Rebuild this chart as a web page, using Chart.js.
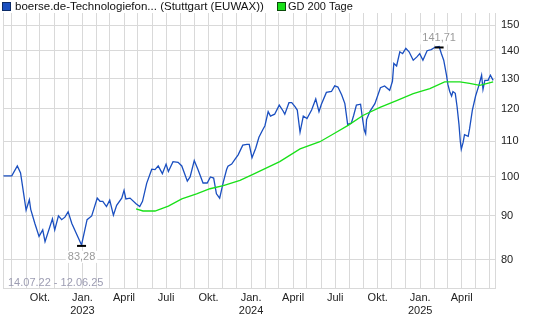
<!DOCTYPE html>
<html>
<head>
<meta charset="utf-8">
<script src="https://cdn.jsdelivr.net/npm/chart.js@4.4.1/dist/chart.umd.min.js"></script>
<style>
  html, body { margin: 0; padding: 0; background: #fff; }
  #wrap { position: relative; width: 537px; height: 323px; }
</style>
</head>
<body>
<div id="wrap"><canvas id="chart" width="537" height="323"></canvas></div>
<script>
// Zeitraum 14.07.22 - 12.06.25, x-Werte = Tage seit dem 14.07.2022
const START = Date.UTC(2022, 6, 14);
const TAGE_GESAMT = 1064;
const zeitraum = '14.07.22 - 12.06.25';

// Kurs (Stuttgart EUWAX)
const kursTage = [0, 18, 30, 37, 49, 56, 59, 68, 77, 85,
  90, 106, 111, 119, 126, 133, 140, 148, 169, 181,
  191, 203, 209, 215, 223, 230, 238, 245, 256, 261,
  265, 274, 287, 295, 301, 310, 321, 328, 335, 344,
  352, 357, 367, 378, 386, 398, 404, 413, 421, 432,
  441, 448, 455, 461, 468, 476, 483, 486, 494, 501,
  508, 518, 527, 532, 538, 546, 553, 561, 566, 573,
  578, 587, 597, 605, 609, 618, 624, 631, 636, 642,
  649, 657, 667, 676, 683, 688, 699, 710, 717, 724,
  732, 739, 745, 753, 758, 764, 773, 777, 781, 784,
  786, 793, 804, 816, 825, 836, 842, 845, 851, 858,
  864, 871, 878, 887, 895, 901, 908, 917, 926, 934,
  943, 948, 953, 959, 962, 966, 970, 973, 978, 982,
  986, 989, 991, 995, 998, 1006, 1009, 1015, 1022, 1029,
  1035, 1038, 1042, 1049, 1054, 1060];
const kursWerte = [100.2, 100.2, 102.9, 101.0, 91.4, 94.0, 91.6, 88.2, 85.2, 86.7,
  84.0, 89.3, 86.7, 90.0, 89.1, 89.7, 91.0, 88.2, 83.28, 89.1,
  90.0, 94.4, 93.6, 93.6, 92.3, 93.9, 90.2, 92.6, 94.4, 96.4,
  94.2, 94.4, 93.0, 92.3, 93.6, 98.2, 102.0, 101.9, 102.9, 100.8,
  103.4, 101.4, 104.1, 103.9, 102.9, 98.8, 99.9, 104.4, 101.9, 98.3,
  98.3, 99.9, 99.6, 95.5, 94.4, 98.6, 101.9, 102.8, 103.4, 104.7,
  106.0, 108.8, 109.0, 109.0, 105.2, 107.9, 111.1, 113.3, 114.6, 119.0,
  117.6, 118.2, 121.1, 119.3, 118.2, 121.9, 121.9, 120.6, 119.5, 112.6,
  117.6, 116.8, 119.5, 123.1, 119.0, 121.3, 125.3, 125.6, 127.5, 127.1,
  124.5, 121.6, 115.0, 115.4, 117.8, 121.1, 121.4, 117.0, 113.3, 112.2,
  116.5, 119.0, 121.6, 126.9, 127.5, 126.0, 129.1, 135.4, 134.5, 139.7,
  139.0, 141.0, 139.7, 136.6, 137.8, 139.0, 136.6, 140.1, 140.5, 141.4,
  141.71, 139.0, 136.6, 131.2, 128.0, 125.6, 124.1, 125.6, 125.0, 120.5,
  115.0, 109.8, 107.6, 109.6, 111.9, 111.4, 113.7, 119.5, 124.1, 127.6,
  131.2, 126.3, 129.4, 129.4, 131.2, 129.4];

// GD 200 Tage
const gdTage = [287, 302, 328, 357, 386, 418, 447, 476, 512, 540, 598, 642, 685,
  714, 746, 778, 815, 851, 887, 923, 955, 988, 1009, 1031, 1060];
const gdWerte = [91.7, 91.2, 91.2, 92.4, 94.2, 95.5, 96.8, 97.6, 99.0, 100.6, 104.1, 107.7, 109.8,
  112.1, 114.7, 117.8, 120.4, 122.6, 124.9, 126.6, 128.9, 128.9, 128.4, 127.7, 128.9];

const yTicks = [80, 90, 100, 110, 120, 130, 140, 150];
const monate = ['Jan.', 'Feb.', 'März', 'April', 'Mai', 'Juni', 'Juli', 'Aug.', 'Sep.', 'Okt.', 'Nov.', 'Dez.'];

const FONT = '"Liberation Sans", Arial, sans-serif';
const BLAU = '#1a4fc0';
const GRUEN = '#18e018';
const GITTER = '#d9d9d9';

// Monatsanfänge als Gitterlinien
const monatsTicks = [];
for (let j = 2022; j <= 2025; j++) {
  for (let m = 0; m < 12; m++) {
    const t = (Date.UTC(j, m, 1) - START) / 86400000;
    if (t > 0 && t <= TAGE_GESAMT) monatsTicks.push(t);
  }
}

function monatsLabel(t) {
  const d = new Date(START + Math.round(t) * 86400000);
  const m = d.getUTCMonth();
  if (m % 3 !== 0) return '';
  if (m === 0) return [monate[0], String(d.getUTCFullYear())];
  return monate[m];
}

const zahl = v => v.toFixed(2).replace('.', ',');

function markierung(ctx, px, py, text, unten) {
  ctx.strokeStyle = '#000';
  ctx.lineWidth = 2;
  ctx.beginPath();
  ctx.moveTo(px - 4.5, py + 1);
  ctx.lineTo(px + 4.5, py + 1);
  ctx.stroke();
  ctx.font = '11px ' + FONT;
  const w = ctx.measureText(text).width;
  const ty = unten ? py + 12 : py - 8;
  ctx.fillStyle = '#fff';
  ctx.fillRect(px - w / 2 - 2, ty - 6, w + 4, 12);
  ctx.fillStyle = '#9a9a9a';
  ctx.textAlign = 'center';
  ctx.textBaseline = 'middle';
  ctx.fillText(text, px, ty);
}

const beschriftung = {
  id: 'beschriftung',
  beforeDatasetsDraw(chart) {
    const { ctx, chartArea } = chart;
    ctx.save();
    ctx.strokeStyle = GITTER;
    ctx.lineWidth = 1;
    ctx.beginPath();
    ctx.moveTo(chartArea.left + 0.5, chartArea.top);
    ctx.lineTo(chartArea.left + 0.5, chartArea.bottom);
    ctx.stroke();
    ctx.font = '11px ' + FONT;
    ctx.fillStyle = '#9c9cb2';
    ctx.textBaseline = 'middle';
    ctx.fillText(zeitraum, 8, 283);
    ctx.restore();
  },
  afterDatasetsDraw(chart) {
    const { ctx, scales } = chart;
    const iMin = kursWerte.indexOf(Math.min(...kursWerte));
    const iMax = kursWerte.indexOf(Math.max(...kursWerte));
    ctx.save();
    markierung(ctx, scales.x.getPixelForValue(kursTage[iMin]), scales.y.getPixelForValue(kursWerte[iMin]), zahl(kursWerte[iMin]), true);
    markierung(ctx, scales.x.getPixelForValue(kursTage[iMax]), scales.y.getPixelForValue(kursWerte[iMax]), zahl(kursWerte[iMax]), false);
    ctx.restore();
  },
  afterDraw(chart) {
    const ctx = chart.ctx;
    ctx.save();
    ctx.textBaseline = 'middle';
    // Legende
    ctx.lineWidth = 1;
    ctx.fillStyle = BLAU;
    ctx.fillRect(2.5, 2.5, 8, 8);
    ctx.strokeStyle = '#0b2a66';
    ctx.strokeRect(2.5, 2.5, 8, 8);
    ctx.fillStyle = '#111';
    ctx.font = '11.5px ' + FONT;
    ctx.fillText('boerse.de-Technologiefon... (Stuttgart (EUWAX))', 15, 7);
    ctx.fillStyle = GRUEN;
    ctx.fillRect(277.5, 2.5, 8, 8);
    ctx.strokeStyle = '#0a4a0a';
    ctx.strokeRect(277.5, 2.5, 8, 8);
    ctx.fillStyle = '#111';
    ctx.font = '11px ' + FONT;
    ctx.fillText('GD 200 Tage', 288, 7);
    ctx.restore();
  }
};

new Chart(document.getElementById('chart'), {
  type: 'line',
  data: {
    datasets: [
      {
        label: 'GD 200 Tage',
        data: gdTage.map((t, i) => ({ x: t, y: gdWerte[i] })),
        borderColor: GRUEN,
        borderWidth: 1.3,
        pointRadius: 0,
        tension: 0
      },
      {
        label: 'boerse.de-Technologiefon... (Stuttgart (EUWAX))',
        data: kursTage.map((t, i) => ({ x: t, y: kursWerte[i] })),
        borderColor: BLAU,
        borderWidth: 1.3,
        pointRadius: 0,
        tension: 0
      }
    ]
  },
  options: {
    responsive: false,
    animation: false,
    devicePixelRatio: 1,
    layout: { padding: { left: 3, top: 13, right: 0, bottom: 0 } },
    plugins: { legend: { display: false }, tooltip: { enabled: false } },
    scales: {
      x: {
        type: 'linear',
        min: -1,
        max: TAGE_GESAMT,
        afterBuildTicks: s => { s.ticks = monatsTicks.map(v => ({ value: v })); },
        afterFit: s => { s.height = 35; },
        grid: { color: GITTER, drawTicks: false },
        border: { color: GITTER },
        ticks: {
          autoSkip: false,
          maxRotation: 0,
          padding: 3,
          color: '#222',
          font: { family: FONT, size: 11 },
          callback: v => monatsLabel(v)
        }
      },
      y: {
        type: 'logarithmic',
        position: 'right',
        min: 74.2,
        max: 155,
        afterBuildTicks: s => { s.ticks = yTicks.map(v => ({ value: v })); },
        afterFit: s => { s.width = 42; },
        grid: { color: GITTER, drawTicks: false },
        border: { color: GITTER },
        ticks: {
          padding: 6,
          color: '#222',
          font: { family: FONT, size: 11 },
          callback: v => String(v)
        }
      }
    }
  },
  plugins: [beschriftung]
});
</script>
</body>
</html>
